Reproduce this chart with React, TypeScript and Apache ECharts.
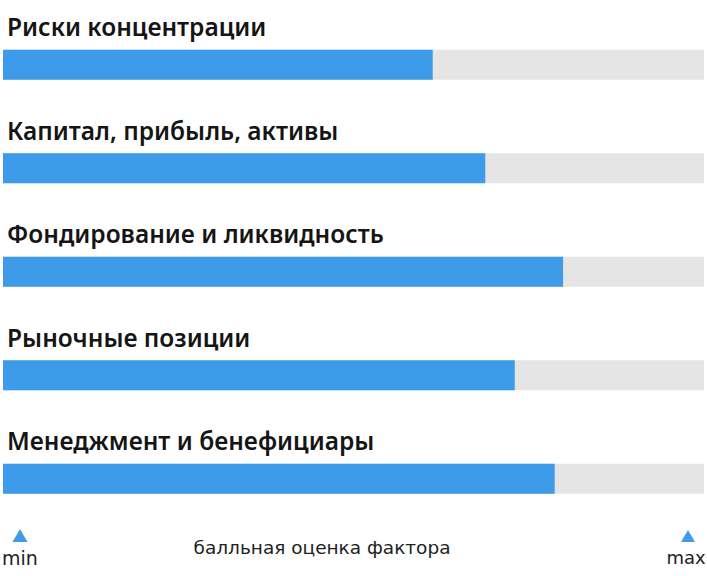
import React, { useEffect, useRef } from "react";
import * as echarts from "echarts";

const categories = [
  "Риски концентрации",
  "Капитал, прибыль, активы",
  "Фондирование и ликвидность",
  "Рыночные позиции",
  "Менеджмент и бенефициары",
];
const scores = [61.3, 68.8, 79.9, 73.0, 78.7];
const scaleMin = 0;
const scaleMax = 100;
const axisTitle = "балльная оценка фактора";
const minLabel = "min";
const maxLabel = "max";

export default function App() {
  const ref = useRef<HTMLDivElement>(null);
  useEffect(() => {
    const chart = echarts.init(ref.current!, null, { renderer: "svg" });
    chart.setOption({
      animation: false,
      grid: { left: 3, right: 3, top: 13, height: 517.5, containLabel: false },
      xAxis: { type: "value", min: scaleMin, max: scaleMax, show: false },
      yAxis: { type: "category", data: categories, inverse: true, show: false },
      series: [
        {
          type: "bar",
          data: scores,
          barWidth: 30,
          itemStyle: { color: "#3d9be9" },
          showBackground: true,
          backgroundStyle: { color: "#e5e5e5" },
          label: {
            show: true,
            position: [4, -23],
            verticalAlign: "middle",
            align: "left",
            formatter: (p: any) => p.name,
            fontFamily: "Noto Sans",
            fontWeight: 600,
            fontSize: 24.5,
            color: "#151515",
          },
        },
      ],
      graphic: [
        { type: "polygon", shape: { points: [[20, 529], [12.5, 542], [27.5, 542]] }, style: { fill: "#3d9be9" } },
        { type: "polygon", shape: { points: [[688, 530], [681, 542], [695, 542]] }, style: { fill: "#3d9be9" } },
        { type: "text", x: 20, y: 558, style: { text: minLabel, fontFamily: "DejaVu Sans", fontSize: 19, fill: "#222", align: "center", verticalAlign: "middle" } },
        { type: "text", x: 686, y: 557, style: { text: maxLabel, fontFamily: "DejaVu Sans", fontSize: 18, fill: "#222", align: "center", verticalAlign: "middle" } },
        { type: "text", x: 322, y: 547, style: { text: axisTitle, fontFamily: "DejaVu Sans", fontSize: 18.5, fill: "#222", align: "center", verticalAlign: "middle" } },
      ],
    });
    return () => chart.dispose();
  }, []);
  return <div ref={ref} style={{ width: 707, height: 576, position: "absolute", left: 0, top: 0 }} />;
}
